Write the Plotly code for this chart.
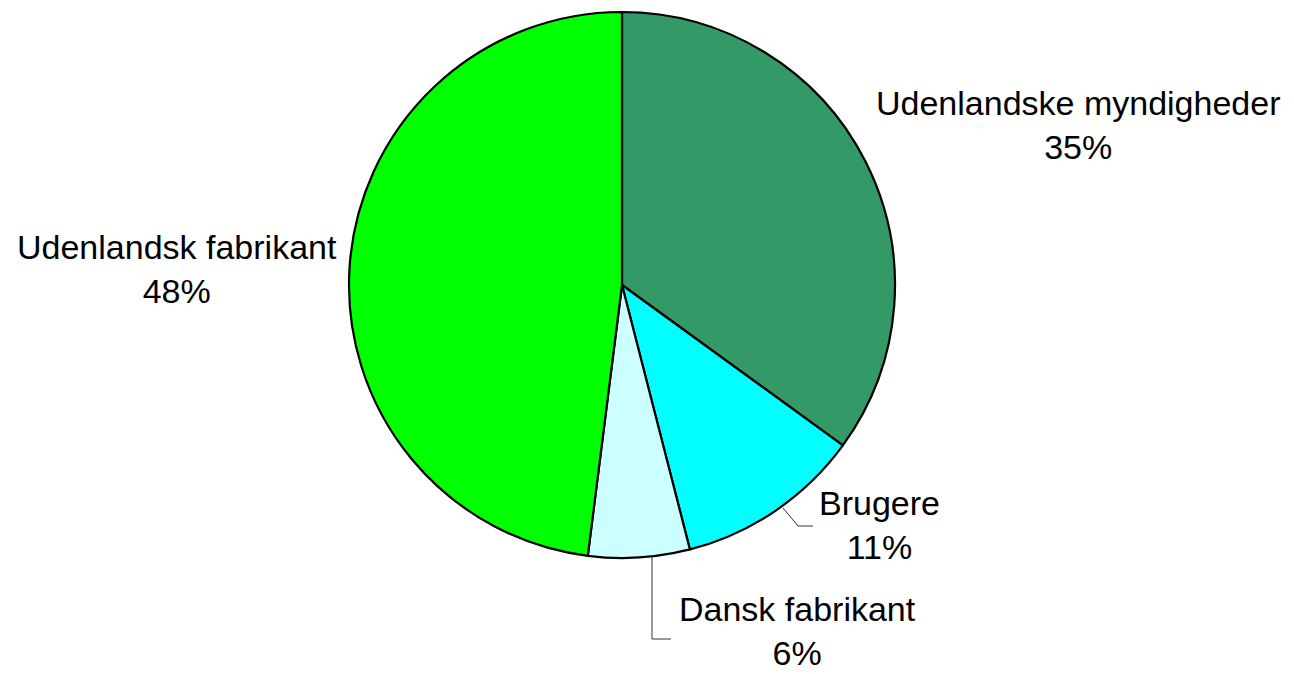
import plotly.graph_objects as go

labels = ["Udenlandske myndigheder", "Brugere", "Dansk fabrikant", "Udenlandsk fabrikant"]
values = [35, 11, 6, 48]
colors = ["#339966", "#00FFFF", "#CCFFFF", "#00FF00"]

W, H = 1294, 674
cx, cy, r = 622, 285, 273

fig = go.Figure(go.Pie(
    labels=labels, values=values, sort=False, direction="clockwise", rotation=0,
    marker=dict(colors=colors, line=dict(color="black", width=2.2)),
    textinfo="none", hoverinfo="label+percent", showlegend=False,
    domain=dict(x=[(cx - r) / W, (cx + r) / W], y=[1 - (cy + r) / H, 1 - (cy - r) / H]),
))

total = sum(values)
label_pos = [(1078, 125), (879, 524.5), (797, 631), (177, 268.5)]
for lab, v, (px, py) in zip(labels, values, label_pos):
    fig.add_annotation(
        x=px / W, y=1 - py / H, xref="paper", yref="paper",
        text=f"{lab}<br>{round(100 * v / total)}%", showarrow=False,
        xanchor="center", yanchor="middle", align="center", borderpad=0,
        font=dict(family="Liberation Sans, Arial, sans-serif", size=34, color="black"),
    )

def P(x, y):
    return f"{x / W},{1 - y / H}"

leaders = [
    [(783, 508), (798, 526), (813, 526)],
    [(652, 557), (652, 639), (671, 639)],
]
for pts in leaders:
    path = "M " + " L ".join(P(x, y) for x, y in pts)
    fig.add_shape(type="path", path=path, xref="paper", yref="paper",
                  line=dict(color="#333333", width=1))

fig.update_layout(
    width=W, height=H, margin=dict(l=0, r=0, t=0, b=0),
    paper_bgcolor="white", plot_bgcolor="white",
)

fig.write_html("out.html", config={"displayModeBar": False},
               post_script="document.body.style.margin='0';document.body.style.overflow='hidden';")
